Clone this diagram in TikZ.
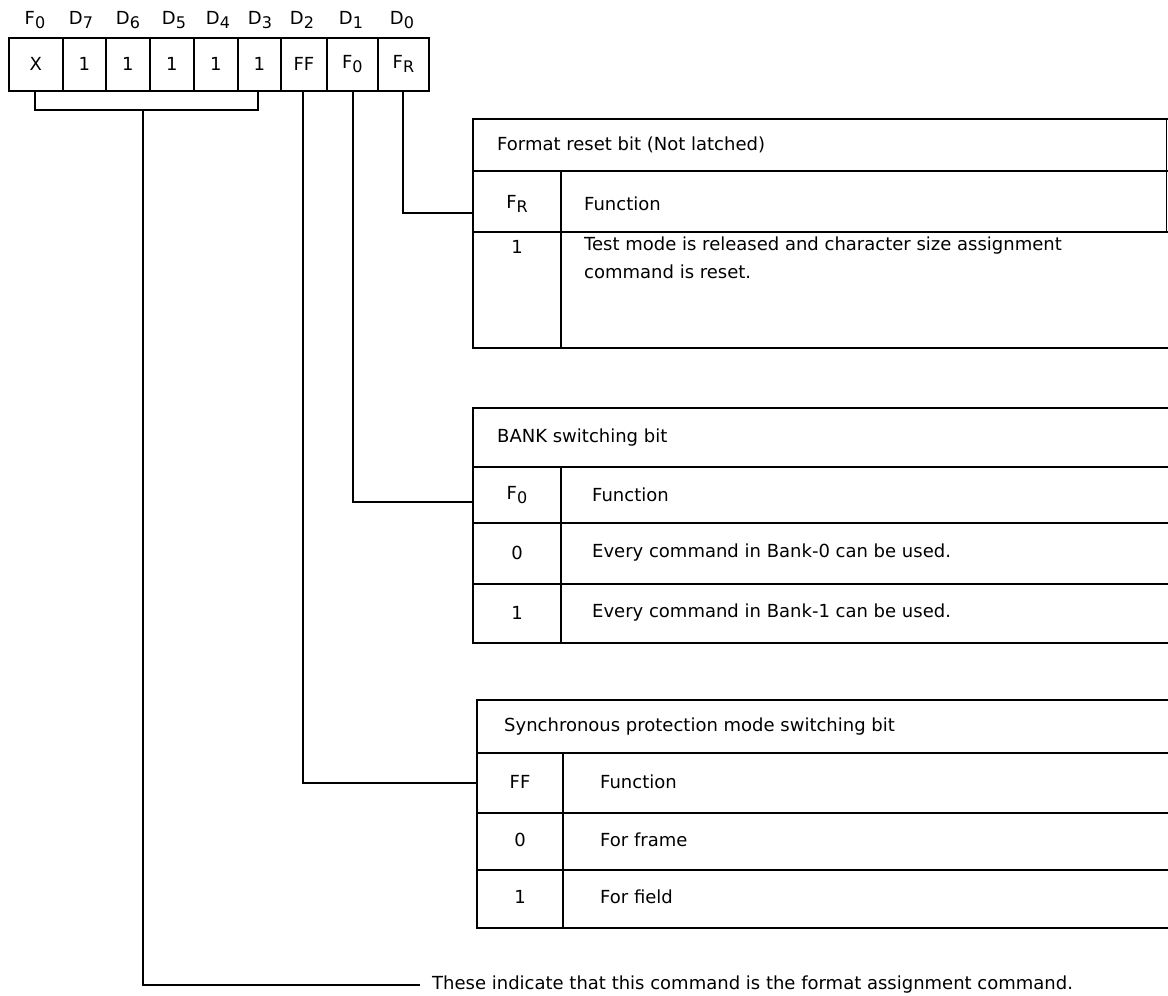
\documentclass[tikz,border=0pt]{standalone}
\usepackage{fontspec}
\setmainfont{DejaVu Sans}
\newcommand\lowsub[1]{\raisebox{-0.4ex}{\fontsize{16}{16}\selectfont #1}}
\begin{document}
\begin{tikzpicture}[x=1pt,y=-1pt,
  every node/.style={font=\fontsize{18}{28}\selectfont, inner sep=0pt},
  cell/.style={draw, line width=1.8pt, minimum height=53pt, anchor=north west},
  rule/.style={line width=1.6pt},
  thin rule/.style={line width=0.8pt},
  lbl/.style={anchor=center},
  txt/.style={anchor=west}]
\useasboundingbox (0,0) rectangle (1168,996);

% bit labels
\node[lbl] (lF0) at (35,20) {F\lowsub{0}};
\node[lbl] (lD7) at (81,20) {D\lowsub{7}};
\node[lbl] (lD6) at (128,20) {D\lowsub{6}};
\node[lbl] (lD5) at (174,20) {D\lowsub{5}};
\node[lbl] (lD4) at (218,20) {D\lowsub{4}};
\node[lbl] (lD3) at (260,20) {D\lowsub{3}};
\node[lbl] (lD2) at (302,20) {D\lowsub{2}};
\node[lbl] (lD1) at (351,20) {D\lowsub{1}};
\node[lbl] (lD0) at (402,20) {D\lowsub{0}};

% register cells
\node[cell, minimum width=54pt] (cX)  at (8,37)   {X};
\node[cell, minimum width=43pt] (cD7) at (62,37)  {1};
\node[cell, minimum width=44pt] (cD6) at (105,37) {1};
\node[cell, minimum width=44pt] (cD5) at (149,37) {1};
\node[cell, minimum width=44pt] (cD4) at (193,37) {1};
\node[cell, minimum width=43pt] (cD3) at (237,37) {1};
\node[cell, minimum width=46pt] (cFF) at (280,37) {FF};
\node[cell, minimum width=51pt] (cF0) at (326,37) {F\lowsub{0}};
\node[cell, minimum width=51pt] (cFR) at (377,37) {F\lowsub{R}};

% connector coordinates
\coordinate (brk) at (143,110);
\coordinate (t1in) at (473,213);
\coordinate (t2in) at (473,502);
\coordinate (t3in) at (477,783);

% bracket and stem
\draw[rule] (cX.south -| 35,0) |- (brk) -| (cD3.south -| 258,0);
\node[txt, inner xsep=12pt] (note) at (420,985) {These indicate that this command is the format assignment command.};
\draw[rule] (brk) |- (note.west);

% bit connectors
\draw[rule] (cFR.south -| 403,0) |- (t1in);
\draw[rule] (cF0.south -| 353,0) |- (t2in);
\draw[rule] (cFF.south -| 303,0) |- (t3in);

% Table 1
\draw[rule] (1168,119) -- (473,119) -- (473,348) -- (1168,348);
\draw[rule] (473,171) -- (1168,171);
\draw[rule] (473,232) -- (1168,232);
\draw[rule] (561,171) -- (561,348);
\draw[thin rule] (1166,119) -- (1166,232);
\node[txt] (t1h) at (497,145) {Format reset bit (Not latched)};
\node[lbl] (t1k) at (517,204) {F\lowsub{R}};
\node[txt] (t1f) at (584,204) {Function};
\node[lbl] (t1v1) at (517,247) {1};
\node[txt, align=left, anchor=north west] (t1d1) at (584,237) {Test mode is released and character size assignment\\command is reset.};

% Table 2
\draw[rule] (1168,408) -- (473,408) -- (473,643) -- (1168,643);
\draw[rule] (473,467) -- (1168,467);
\draw[rule] (473,523) -- (1168,523);
\draw[rule] (473,584) -- (1168,584);
\draw[rule] (561,467) -- (561,643);
\node[txt] (t2h) at (497,438) {BANK switching bit};
\node[lbl] (t2k) at (517,495) {F\lowsub{0}};
\node[txt] (t2f) at (592,495) {Function};
\node[lbl] (t2v0) at (517,553) {0};
\node[txt] (t2d0) at (592,553) {Every command in Bank-0 can be used.};
\node[lbl] (t2v1) at (517,613) {1};
\node[txt] (t2d1) at (592,613) {Every command in Bank-1 can be used.};

% Table 3
\draw[rule] (1168,700) -- (477,700) -- (477,928) -- (1168,928);
\draw[rule] (477,753) -- (1168,753);
\draw[rule] (477,813) -- (1168,813);
\draw[rule] (477,870) -- (1168,870);
\draw[rule] (563,753) -- (563,928);
\node[txt] (t3h) at (504,727) {Synchronous protection mode switching bit};
\node[lbl] (t3k) at (520,782) {FF};
\node[txt] (t3f) at (600,782) {Function};
\node[lbl] (t3v0) at (520,840) {0};
\node[txt] (t3d0) at (600,840) {For frame};
\node[lbl] (t3v1) at (520,897) {1};
\node[txt] (t3d1) at (600,897) {For field};
\end{tikzpicture}
\end{document}
